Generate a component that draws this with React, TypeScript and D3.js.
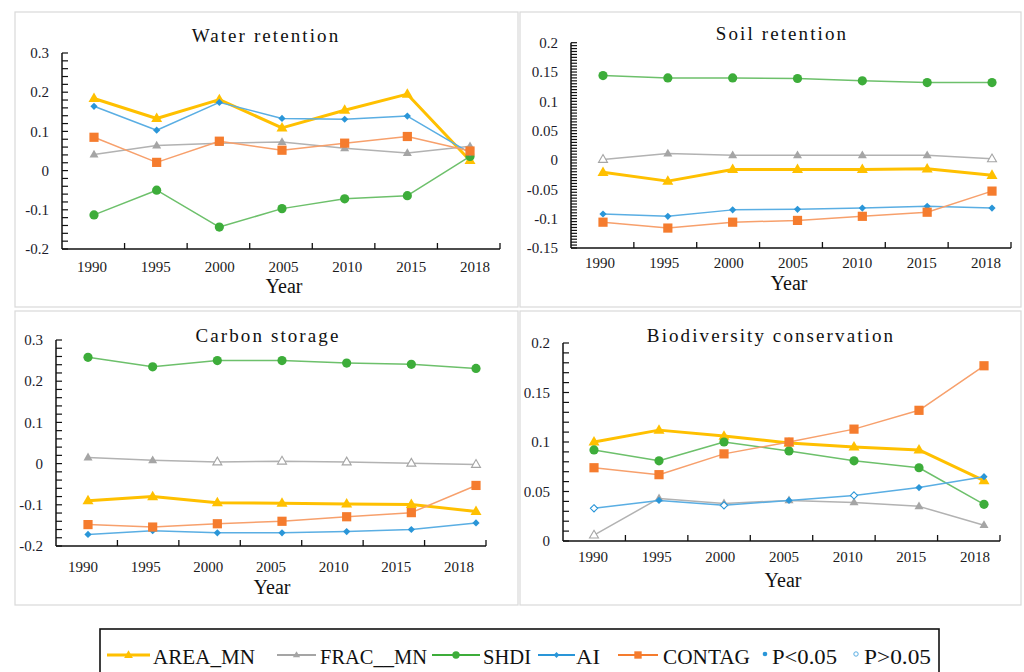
import React from "react";
import * as d3 from "d3";

// ---------- data ----------
const years = ["1990", "1995", "2000", "2005", "2010", "2015", "2018"];
const seriesNames = ["AREA_MN", "FRAC__MN", "SHDI", "AI", "CONTAG"];

// Water retention
const waterAREA = [0.184, 0.133, 0.181, 0.109, 0.154, 0.195, 0.026];
const waterFRAC = [0.041, 0.064, 0.07, 0.073, 0.057, 0.045, 0.062];
const waterSHDI = [-0.113, -0.05, -0.144, -0.097, -0.072, -0.064, 0.036];
const waterAI = [0.164, 0.103, 0.174, 0.133, 0.131, 0.139, 0.045];
const waterCONTAG = [0.085, 0.021, 0.075, 0.052, 0.07, 0.087, 0.05];
const waterFRACSig = [1, 1, 1, 1, 1, 1, 1];
const waterAISig = [1, 1, 1, 1, 1, 1, 1];

// Soil retention
const soilAREA = [-0.021, -0.036, -0.016, -0.016, -0.016, -0.015, -0.026];
const soilFRAC = [0.001, 0.011, 0.008, 0.008, 0.008, 0.008, 0.002];
const soilSHDI = [0.144, 0.14, 0.14, 0.139, 0.135, 0.132, 0.132];
const soilAI = [-0.092, -0.096, -0.085, -0.084, -0.082, -0.079, -0.082];
const soilCONTAG = [-0.106, -0.116, -0.106, -0.103, -0.096, -0.089, -0.053];
const soilFRACSig = [0, 1, 1, 1, 1, 1, 0];
const soilAISig = [1, 1, 1, 1, 1, 1, 1];

// Carbon storage
const carbonAREA = [-0.09, -0.08, -0.095, -0.096, -0.098, -0.099, -0.116];
const carbonFRAC = [0.015, 0.008, 0.004, 0.006, 0.004, 0.001, -0.002];
const carbonSHDI = [0.258, 0.235, 0.25, 0.25, 0.244, 0.241, 0.231];
const carbonAI = [-0.172, -0.163, -0.168, -0.168, -0.165, -0.16, -0.144];
const carbonCONTAG = [-0.148, -0.154, -0.146, -0.14, -0.129, -0.119, -0.053];
const carbonFRACSig = [1, 1, 0, 0, 0, 0, 0];
const carbonAISig = [1, 1, 1, 1, 1, 1, 1];

// Biodiversity conservation
const bioAREA = [0.1, 0.112, 0.106, 0.099, 0.095, 0.092, 0.061];
const bioFRAC = [0.006, 0.043, 0.038, 0.041, 0.039, 0.035, 0.016];
const bioSHDI = [0.092, 0.081, 0.1, 0.091, 0.081, 0.074, 0.037];
const bioAI = [0.033, 0.041, 0.036, 0.041, 0.046, 0.054, 0.065];
const bioCONTAG = [0.074, 0.067, 0.088, 0.1, 0.113, 0.132, 0.177];
const bioFRACSig = [0, 1, 1, 1, 1, 1, 1];
const bioAISig = [0, 1, 0, 1, 0, 1, 1];

const ticks1 = [0.3, 0.2, 0.1, 0, -0.1, -0.2];
const ticks1Labels = ["0.3", "0.2", "0.1", "0", "-0.1", "-0.2"];
const ticks2 = [0.2, 0.15, 0.1, 0.05, 0, -0.05, -0.1, -0.15];
const ticks2Labels = ["0.2", "0.15", "0.1", "0.05", "0", "-0.05", "-0.1", "-0.15"];
const ticks4 = [0.2, 0.15, 0.1, 0.05, 0];
const ticks4Labels = ["0.2", "0.15", "0.1", "0.05", "0"];

// ---------- style ----------
const markerColors = ["#FFC000", "#A5A5A5", "#3DAD3A", "#2A96D8", "#F57C2E"];
const lineColors = ["#FFC000", "#B2B2B2", "#6DC06B", "#5AAEE3", "#F7A06C"];
const lineWidths = [3, 1.5, 1.5, 1.5, 1.5];
const markerKinds = ["triBig", "tri", "circle", "diamond", "square"];
const serif = "'Liberation Serif', 'Times New Roman', 'DejaVu Serif', serif";

function markerPath(kind: string): string {
  switch (kind) {
    case "triBig": {
      const s = 11;
      const h = (s * Math.sqrt(3)) / 2;
      return `M0,${-h * 0.62}L${s / 2},${h * 0.38}L${-s / 2},${h * 0.38}Z`;
    }
    case "tri": {
      const s = 9;
      const h = (s * Math.sqrt(3)) / 2;
      return `M0,${-h * 0.62}L${s / 2},${h * 0.38}L${-s / 2},${h * 0.38}Z`;
    }
    case "circle": {
      const r = 4.6;
      return `M${r},0A${r},${r} 0 1,1 ${-r},0A${r},${r} 0 1,1 ${r},0Z`;
    }
    case "diamond": {
      const r = 3.6;
      return `M0,${-r}L${r},0L0,${r}L${-r},0Z`;
    }
    default: {
      const s = 4.6;
      return `M${-s},${-s}H${s}V${s}H${-s}Z`;
    }
  }
}

type Panel = {
  title: string;
  series: number[][];
  sig: (number[] | null)[];
  domain: [number, number];
  yRange: [number, number];
  ticks: number[];
  tickLabels: string[];
  minorStep: number;
  axisX: [number, number];
  labelX: [number, number];
  pointX: [number, number];
  labelY: number;
  yearX: number;
  yearY: number;
  titleX: number;
  titleY: number;
  box: [number, number, number, number];
};

const panels: Panel[] = [
  {
    title: "Water retention",
    series: [waterAREA, waterFRAC, waterSHDI, waterAI, waterCONTAG],
    sig: [null, waterFRACSig, null, waterAISig, null],
    domain: [-0.2, 0.3],
    yRange: [249, 53],
    ticks: ticks1,
    tickLabels: ticks1Labels,
    minorStep: 0.02,
    axisX: [62, 500],
    labelX: [92, 475],
    pointX: [94, 470],
    labelY: 272,
    yearX: 284,
    yearY: 293,
    titleX: 266,
    titleY: 42,
    box: [15, 12, 518, 307],
  },
  {
    title: "Soil retention",
    series: [soilAREA, soilFRAC, soilSHDI, soilAI, soilCONTAG],
    sig: [null, soilFRACSig, null, soilAISig, null],
    domain: [-0.15, 0.2],
    yRange: [248, 42.7],
    ticks: ticks2,
    tickLabels: ticks2Labels,
    minorStep: 0.005,
    axisX: [571, 1011],
    labelX: [600, 986],
    pointX: [603, 992],
    labelY: 268,
    yearX: 789,
    yearY: 290,
    titleX: 782,
    titleY: 40,
    box: [520, 12, 1021, 307],
  },
  {
    title: "Carbon storage",
    series: [carbonAREA, carbonFRAC, carbonSHDI, carbonAI, carbonCONTAG],
    sig: [null, carbonFRACSig, null, carbonAISig, null],
    domain: [-0.2, 0.3],
    yRange: [546, 340],
    ticks: ticks1,
    tickLabels: ticks1Labels,
    minorStep: 0.02,
    axisX: [56, 486],
    labelX: [83, 459],
    pointX: [88, 476],
    labelY: 572,
    yearX: 272,
    yearY: 594,
    titleX: 268,
    titleY: 342,
    box: [15, 311, 518, 605],
  },
  {
    title: "Biodiversity conservation",
    series: [bioAREA, bioFRAC, bioSHDI, bioAI, bioCONTAG],
    sig: [null, bioFRACSig, null, bioAISig, null],
    domain: [0, 0.2],
    yRange: [541, 343],
    ticks: ticks4,
    tickLabels: ticks4Labels,
    minorStep: 0.01,
    axisX: [563, 1000],
    labelX: [593, 975],
    pointX: [594, 984],
    labelY: 562,
    yearX: 783,
    yearY: 587,
    titleX: 771,
    titleY: 342,
    box: [520, 311, 1021, 605],
  },
];

function ChartPanel({ p }: { p: Panel }) {
  const y = d3.scaleLinear().domain(p.domain).range(p.yRange);
  const xBand = d3.scaleBand().domain(years).range(p.axisX);
  const xLabel = d3.scalePoint().domain(years).range(p.labelX);
  const xPoint = d3.scalePoint().domain(years).range(p.pointX);
  const x0 = p.axisX[0];
  const x1 = p.axisX[1];
  const yBottom = y(p.domain[0]);
  const yTop = y(p.domain[1]);
  const nMinor = Math.round((p.domain[1] - p.domain[0]) / p.minorStep);
  const minor = d3.range(nMinor + 1).map((i) => p.domain[0] + i * p.minorStep);
  const line = d3
    .line<number>()
    .x((_, i) => xPoint(years[i]) as number)
    .y((d) => y(d));
  const axisColor = "#111";
  return (
    <g>
      <rect
        x={p.box[0]}
        y={p.box[1]}
        width={p.box[2] - p.box[0]}
        height={p.box[3] - p.box[1]}
        fill="#fff"
        stroke="#d9d9d9"
        strokeWidth={1.2}
      />
      <text
        x={p.titleX}
        y={p.titleY}
        textAnchor="middle"
        style={{ fontFamily: serif, fontSize: 19, letterSpacing: 2.1 }}
        fill="#111"
      >
        {p.title}
      </text>
      {/* y axis minor ticks */}
      {minor.map((v, i) => (
        <line key={"m" + i} x1={x0} x2={x0 + 6} y1={y(v)} y2={y(v)} stroke={axisColor} strokeWidth={1.2} />
      ))}
      {p.ticks.map((v, i) => (
        <text
          key={"t" + i}
          x={x0 - 13}
          y={y(v)}
          dy="0.35em"
          textAnchor="end"
          style={{ fontFamily: serif, fontSize: 15 }}
          fill="#1b1b2b"
        >
          {p.tickLabels[i]}
        </text>
      ))}
      <line x1={x0} x2={x0} y1={yTop} y2={yBottom} stroke={axisColor} strokeWidth={1.5} />
      <line x1={x0} x2={x1} y1={yBottom} y2={yBottom} stroke={axisColor} strokeWidth={1.5} />
      {/* x axis ticks */}
      {years.map((yr) => {
        const bx = (xBand(yr) as number) + xBand.bandwidth();
        return <line key={"xt" + yr} x1={bx} x2={bx} y1={yBottom} y2={yBottom - 6} stroke={axisColor} strokeWidth={1.3} />;
      })}
      {years.map((yr) => (
        <text
          key={"xl" + yr}
          x={xLabel(yr) as number}
          y={p.labelY}
          textAnchor="middle"
          style={{ fontFamily: serif, fontSize: 15 }}
          fill="#1b1b1b"
        >
          {yr}
        </text>
      ))}
      <text x={p.yearX} y={p.yearY} textAnchor="middle" style={{ fontFamily: serif, fontSize: 20 }} fill="#111">
        Year
      </text>
      {/* series */}
      {p.series.map((vals, si) => (
        <g key={"s" + si}>
          <path
            d={line(vals) || ""}
            fill="none"
            stroke={lineColors[si]}
            strokeWidth={lineWidths[si]}
            strokeLinejoin="round"
          />
          {vals.map((v, i) => {
            const sigArr = p.sig[si];
            const hollow = sigArr ? sigArr[i] === 0 : false;
            return (
              <path
                key={"pt" + i}
                d={markerPath(markerKinds[si])}
                transform={`translate(${xPoint(years[i])},${y(v)})`}
                fill={hollow ? "#fff" : markerColors[si]}
                stroke={hollow ? markerColors[si] : "none"}
                strokeWidth={hollow ? 1.1 : 0}
              />
            );
          })}
        </g>
      ))}
    </g>
  );
}

const legendLineX = [
  [107, 150],
  [277, 316],
  [432, 480],
  [538, 575],
  [618, 658],
];
const legendTextX = [
  [153, 255],
  [320, 427],
  [483, 531],
  [576, 600],
  [663, 750],
];

function Legend() {
  const ly = 655;
  const ty = 664;
  return (
    <g>
      <rect x={100} y={629} width={839} height={60} fill="#fff" stroke="#111" strokeWidth={1.6} />
      {seriesNames.map((name, i) => {
        const [a, b] = legendLineX[i];
        const [ta, tb] = legendTextX[i];
        return (
          <g key={name}>
            <line x1={a} x2={b} y1={ly} y2={ly} stroke={markerColors[i]} strokeWidth={lineWidths[i] === 3 ? 3 : 1.8} />
            <path d={markerPath(markerKinds[i])} transform={`translate(${(a + b) / 2},${ly}) scale(0.8)`} fill={markerColors[i]} />
            <text
              x={ta}
              y={ty}
              style={{ fontFamily: serif, fontSize: 21 }}
              fill="#111"
              textLength={tb - ta}
              lengthAdjust="spacingAndGlyphs"
            >
              {name}
            </text>
          </g>
        );
      })}
      <circle cx={765} cy={ly - 1} r={2.3} fill="#2A96D8" />
      <text x={772} y={ty} style={{ fontFamily: serif, fontSize: 21 }} fill="#111" textLength={65} lengthAdjust="spacingAndGlyphs">
        P&lt;0.05
      </text>
      <circle cx={856} cy={ly - 1} r={2.2} fill="#fff" stroke="#5AAEE3" strokeWidth={1} />
      <text x={864} y={ty} style={{ fontFamily: serif, fontSize: 21 }} fill="#111" textLength={67} lengthAdjust="spacingAndGlyphs">
        P&gt;0.05
      </text>
    </g>
  );
}

export default function App() {
  return (
    <svg
      width={1024}
      height={672}
      viewBox="0 0 1024 672"
      style={{ position: "absolute", left: 0, top: 0, background: "#fff" }}
    >
      <rect x={0} y={0} width={1024} height={672} fill="#fff" />
      {panels.map((p, i) => (
        <ChartPanel key={i} p={p} />
      ))}
      <Legend />
    </svg>
  );
}
